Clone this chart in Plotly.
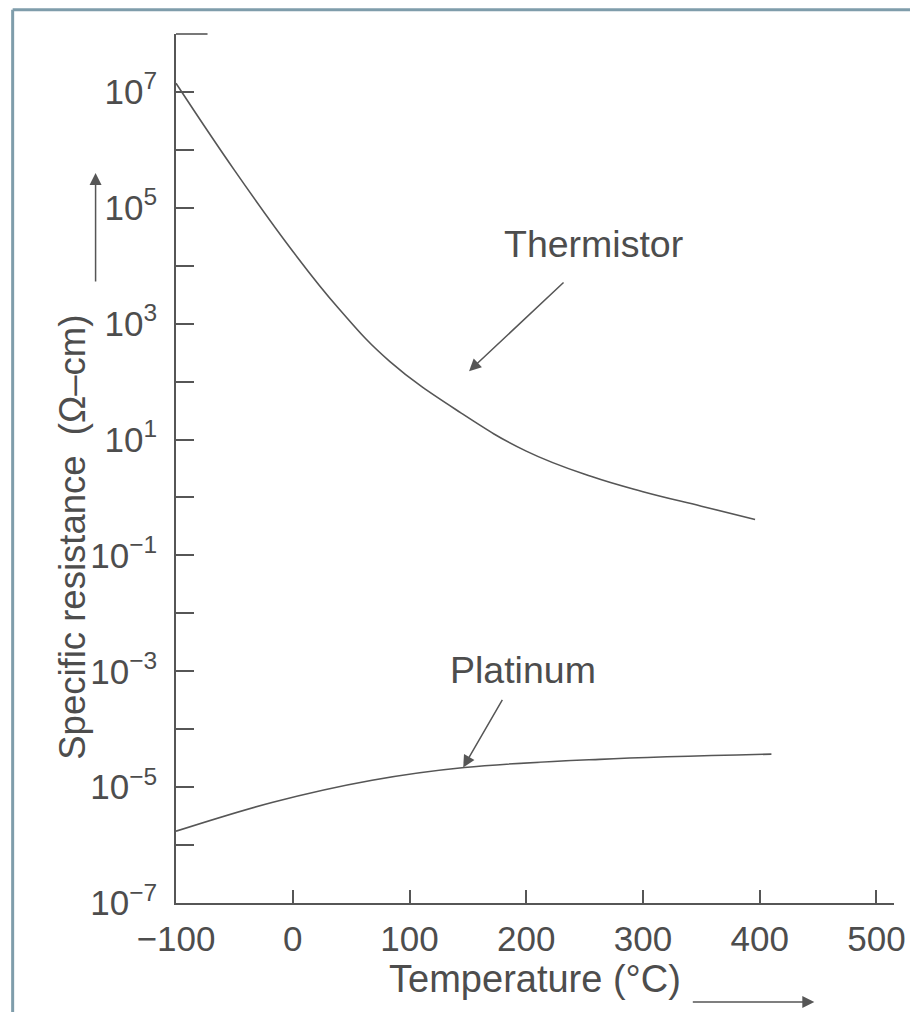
import plotly.graph_objects as go

# ---- data ----
thermistor_temp = [-100, -50, 0, 39, 83, 144, 200, 256, 300, 350, 396]
thermistor_log_res = [7.15, 5.65, 4.25, 3.27, 2.35, 1.46, 0.80, 0.36, 0.10, -0.15, -0.38]

platinum_temp = [-100, -17, 68, 147, 263, 410]
platinum_log_res = [-5.76, -5.26, -4.88, -4.66, -4.52, -4.43]

x_ticks = [-100, 0, 100, 200, 300, 400, 500]
y_labelled = [-7, -5, -3, -1, 1, 3, 5, 7]
y_unlabelled = [-6, -4, -2, 0, 2, 4, 6, 8]

# label / arrow anchor points (temperature, log10 resistance)
thermistor_label = (258, 4.38)
thermistor_arrow_tip = (151, 2.18)
platinum_label = (197, -2.98)
platinum_arrow_tip = (146, -4.66)

thermistor_res = [10 ** v for v in thermistor_log_res]
platinum_res = [10 ** v for v in platinum_log_res]


def sup(e):
    s = str(e).replace("-", "\u2212")
    return f"10<sup>{s}</sup>"


INK = "#565656"
TXT = "#4d4d4d"
FONT = "Liberation Sans, Arial, sans-serif"

fig = go.Figure()
fig.add_trace(go.Scatter(x=thermistor_temp, y=thermistor_res, mode="lines",
                         line=dict(color=INK, width=1.6, shape="spline", smoothing=1.2),
                         name="Thermistor", showlegend=False, hoverinfo="skip"))
fig.add_trace(go.Scatter(x=platinum_temp, y=platinum_res, mode="lines",
                         line=dict(color=INK, width=1.6, shape="spline", smoothing=1.0),
                         name="Platinum", showlegend=False, hoverinfo="skip"))

# page body adds an 8px offset, so the figure is drawn 8px smaller
fig.update_layout(
    width=910, height=1004,
    margin=dict(l=168, r=21, t=26, b=109),
    paper_bgcolor="white", plot_bgcolor="white",
    font=dict(family=FONT, color=TXT, size=35),
    showlegend=False,
)
fig.update_xaxes(
    range=[-100, 515], tickvals=x_ticks,
    ticks="inside", ticklen=13, tickwidth=1.5, tickcolor=INK,
    showline=True, linecolor=INK, linewidth=1.6,
    showgrid=False, zeroline=False,
    tickfont=dict(size=35, color=TXT), ticklabelstandoff=4,
    title=dict(text="Temperature (\u00b0C)", font=dict(size=38, color=TXT), standoff=0),
)
fig.update_yaxes(
    type="log", range=[-7, 8],
    tickvals=[10 ** e for e in y_labelled], ticktext=[sup(e) for e in y_labelled],
    ticks="inside", ticklen=18, tickwidth=1.5, tickcolor=INK,
    minor=dict(tickmode="array", tickvals=[10 ** e for e in y_unlabelled],
               ticks="inside", ticklen=18, tickwidth=1.5, tickcolor=INK, showgrid=False),
    showline=True, linecolor=INK, linewidth=1.6,
    showgrid=False, zeroline=False,
    tickfont=dict(size=35, color=TXT), ticklabelstandoff=10,
)

# top cap of the y axis
fig.add_shape(type="line", xref="x", yref="paper", x0=-100, x1=-73, y0=1, y1=1,
              line=dict(color=INK, width=1.6))

# curve labels with arrows
fig.add_annotation(x=thermistor_label[0], y=thermistor_label[1], text="Thermistor",
                   showarrow=False, font=dict(size=37.5, color=TXT))
fig.add_annotation(x=thermistor_arrow_tip[0], y=thermistor_arrow_tip[1], text="",
                   showarrow=True, arrowhead=2, arrowsize=1.6, arrowwidth=1.5,
                   arrowcolor=INK, ax=96, ay=-90)
fig.add_annotation(x=platinum_label[0], y=platinum_label[1], text="Platinum",
                   showarrow=False, font=dict(size=37.5, color=TXT))
fig.add_annotation(x=platinum_arrow_tip[0], y=platinum_arrow_tip[1], text="",
                   showarrow=True, arrowhead=2, arrowsize=1.6, arrowwidth=1.5,
                   arrowcolor=INK, ax=40, ay=-69)

# y axis title with upward arrow
fig.add_annotation(xref="paper", yref="paper", x=-0.144, y=0.421,
                   xanchor="center", yanchor="middle",
                   text="Specific resistance  (\u03a9\u2013cm)", textangle=-90,
                   showarrow=False, font=dict(size=36.5, color=TXT))
fig.add_annotation(xref="paper", yref="paper", x=-0.112, y=0.840, text="",
                   showarrow=True, arrowhead=2, arrowsize=1.6, arrowwidth=1.5,
                   arrowcolor=INK, ax=0, ay=110)
# x axis title arrow
fig.add_annotation(xref="paper", yref="paper", x=0.889, y=-0.114, text="",
                   showarrow=True, arrowhead=2, arrowsize=1.6, arrowwidth=1.5,
                   arrowcolor=INK, ax=-123, ay=0)

# scan frame (top and left border)
frame = dict(color="#7f9dab", width=3)
fig.add_shape(type="line", xref="paper", yref="paper", x0=-0.2275, x1=1.04,
              y0=1.028, y1=1.028, line=frame)
fig.add_shape(type="line", xref="paper", yref="paper", x0=-0.2275, x1=-0.2275,
              y0=1.028, y1=-0.13, line=frame)

fig.write_html("out.html")
